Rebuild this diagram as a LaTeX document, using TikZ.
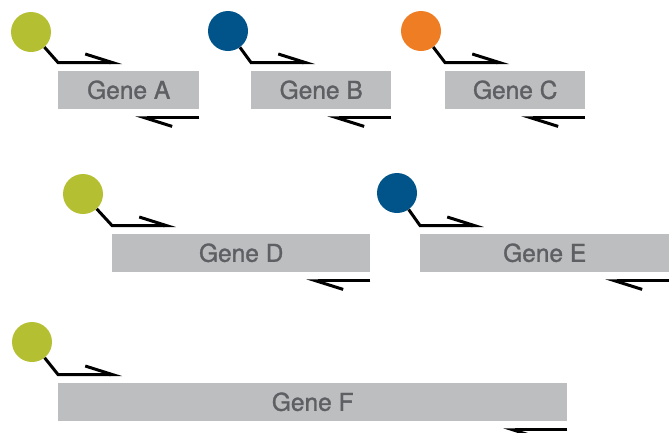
\documentclass[tikz,border=0pt]{standalone}
\usepackage{fontspec}
\setmainfont{TeX Gyre Heros}
\newfontfamily\genefont[FakeBold=1.2]{TeX Gyre Heros}
\usetikzlibrary{arrows.meta,positioning,calc}

\definecolor{promGreen}{RGB}{181,191,50}
\definecolor{promBlue}{RGB}{0,84,138}
\definecolor{promOrange}{RGB}{238,125,35}
\definecolor{geneGray}{RGB}{189,190,192}
\definecolor{geneText}{RGB}{94,95,98}

\tikzset{
  gene/.style={fill=geneGray, anchor=north west, minimum height=37.5pt, inner sep=0pt,
    text=geneText, font=\genefont\fontsize{24.5}{29}\selectfont, text height=17.6pt, text depth=0pt},
  prom/.style={circle, minimum size=40pt, inner sep=0pt},
  strand/.style={line width=3pt, -{Straight Barb[left,length=27pt,width=17pt]}},
}

\begin{document}
\begin{tikzpicture}[x=1pt,y=-1pt]
        \useasboundingbox (0,0) rectangle (669,432);

        % Top row genes
        \node[gene, minimum width=141pt] (geneA) at (58,71) {Gene A};
        \node[gene, minimum width=140pt] (geneB) at (251,71) {Gene B};
        \node[gene, minimum width=140pt] (geneC) at (445,71) {Gene C};

        % Top row promoters
        \node[prom, fill=promGreen] (promA) at (31,32) {};
        \node[prom, fill=promBlue] (promB) at (228,31) {};
        \node[prom, fill=promOrange] (promC) at (421,31) {};

        % Top row strands
        \draw[strand] (promA) -- ([yshift=8.5pt]geneA.north west) -- ++(64,0);
        \draw[strand] (promB) -- ([yshift=8.5pt]geneB.north west) -- ++(64,0);
        \draw[strand] (promC) -- ([yshift=8.5pt]geneC.north west) -- ++(64,0);
        \draw[strand] ([yshift=-9pt]geneA.south east) -- ++(-64,0);
        \draw[strand] ([yshift=-9pt]geneB.south east) -- ++(-64,0);
        \draw[strand] ([yshift=-9pt]geneC.south east) -- ++(-64,0);

        % ================== Middle row ==================
        \node[gene, minimum width=258pt] (geneD) at (112,234) {Gene D};
        \node[gene, minimum width=249pt] (geneE) at (420,234) {Gene E};

        \node[prom, fill=promGreen] (promD) at (83,194) {};
        \node[prom, fill=promBlue] (promE) at (397,193) {};

        \draw[strand] (promD) -- ([yshift=8.5pt]geneD.north west) -- ++(64,0);
        \draw[strand] (promE) -- ([yshift=8.5pt]geneE.north west) -- ++(64,0);
        \draw[strand] ([yshift=-9pt]geneD.south east) -- ++(-64,0);
        \draw[strand] ([yshift=-9pt]geneE.south east) -- ++(-64,0);

        % ================== Bottom row ==================
        \node[gene, minimum width=509pt] (geneF) at (58,383) {Gene F};
        \node[prom, fill=promGreen] (promF) at (32,342) {};

        \draw[strand] (promF) -- ([yshift=8.5pt]geneF.north west) -- ++(64,0);
        \draw[strand] ([yshift=-9pt]geneF.south east) -- ++(-64,0);
\end{tikzpicture}
\end{document}
